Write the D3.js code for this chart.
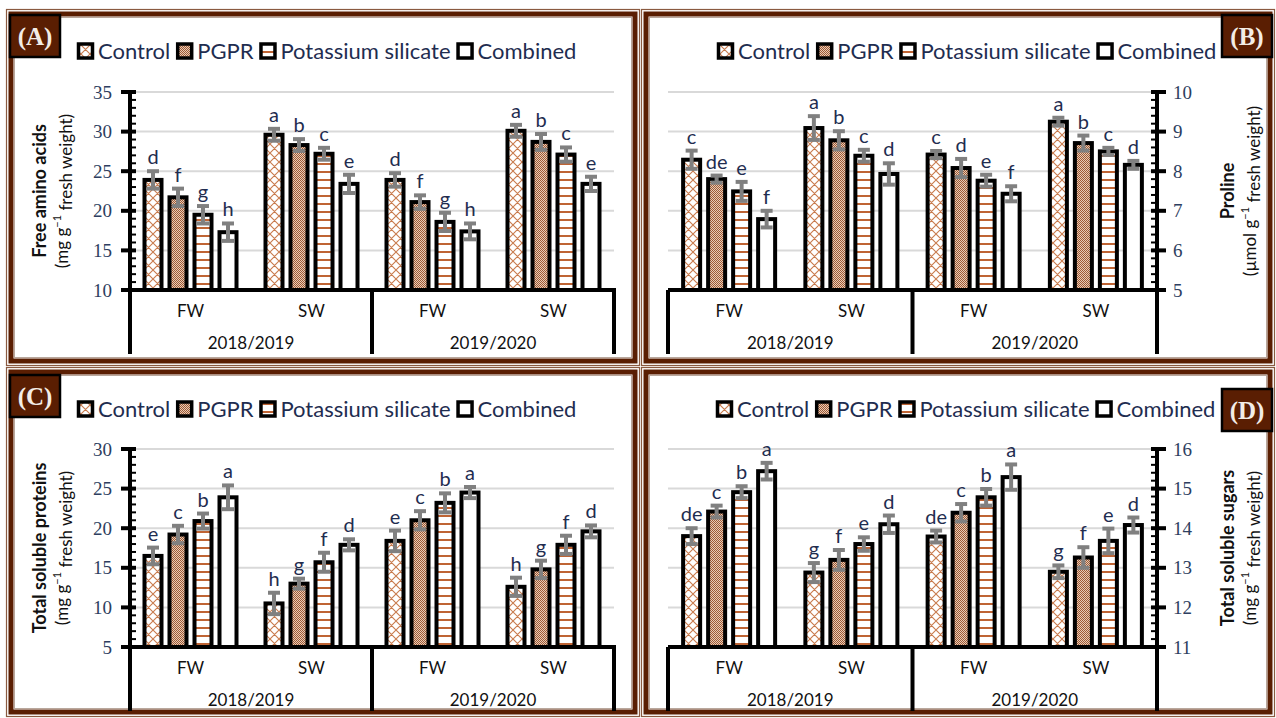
<!DOCTYPE html>
<html><head><meta charset="utf-8">
<script src="https://cdn.jsdelivr.net/npm/d3@7"></script>
<style>body{margin:0;background:#fff}svg{display:block}</style>
</head><body><svg id="c" width="1276" height="718"></svg>
<script>
// ---------- data ----------
const treatments = ["Control","PGPR","Potassium silicate","Combined"];
const seasons = ["FW","SW","FW","SW"];
const years = ["2018/2019","2019/2020"];
const panelLabels = ["(A)","(B)","(C)","(D)"];

const aminoDomain = [10,35];
const aminoTicks = [10,15,20,25,30,35];
const aminoValues = [[23.9,21.7,19.5,17.3],[29.6,28.3,27.2,23.4],[23.9,21.1,18.6,17.4],[30.1,28.7,27.1,23.4]];
const aminoErrors = [[1.1,1.1,1.1,1.1],[0.75,0.75,0.75,1.15],[0.85,0.85,1.15,1.0],[0.75,1.0,0.9,0.9]];
const aminoLetters = [["d","f","g","h"],["a","b","c","e"],["d","f","g","h"],["a","b","c","e"]];

const prolineDomain = [5,10];
const prolineTicks = [5,6,7,8,9,10];
const prolineValues = [[8.29,7.80,7.49,6.79],[9.09,8.78,8.39,7.93],[8.42,8.08,7.76,7.43],[9.25,8.71,8.50,8.16]];
const prolineErrors = [[0.23,0.09,0.24,0.21],[0.30,0.23,0.15,0.27],[0.09,0.23,0.15,0.19],[0.10,0.19,0.09,0.10]];
const prolineLetters = [["c","de","e","f"],["a","b","c","d"],["c","d","e","f"],["a","b","c","d"]];

const proteinDomain = [5,30];
const proteinTicks = [5,10,15,20,25,30];
const proteinValues = [[16.5,19.2,20.9,23.9],[10.5,13.0,15.7,17.9],[18.4,21.0,23.2,24.5],[12.6,14.8,17.9,19.6]];
const proteinErrors = [[1.05,1.1,0.95,1.5],[1.35,0.63,1.2,0.7],[1.3,1.15,1.2,0.7],[1.15,1.1,1.15,0.75]];
const proteinLetters = [["e","c","b","a"],["h","g","f","d"],["e","c","b","a"],["h","g","f","d"]];

const sugarDomain = [11,16];
const sugarTicks = [11,12,13,14,15,16];
const sugarValues = [[13.80,14.42,14.91,15.44],[12.88,13.20,13.60,14.10],[13.79,14.39,14.78,15.29],[12.90,13.26,13.68,14.08]];
const sugarErrors = [[0.20,0.15,0.15,0.21],[0.24,0.25,0.17,0.22],[0.15,0.22,0.21,0.32],[0.16,0.26,0.31,0.19]];
const sugarLetters = [["de","c","b","a"],["g","f","e","d"],["de","c","b","a"],["g","f","e","d"]];

const titles = ["Free amino acids","Proline","Total soluble proteins","Total soluble sugars"];
const unitsPre = ["(mg g","(µmol g","(mg g","(mg g"];

// ---------- drawing ----------
const svg = d3.select("#c");
const BROWN = "#bf6434";
const FRAME = "#5a1e02";
const TXT = "#1f2d50";
const SANS = "Lato, 'Open Sans', sans-serif";
const SERIF = "'Liberation Serif', 'DejaVu Serif', serif";

const defs = svg.append("defs");
const pc = defs.append("pattern").attr("id","pCross").attr("patternUnits","userSpaceOnUse").attr("width",9).attr("height",9);
pc.append("rect").attr("width",9).attr("height",9).attr("fill","#fff");
pc.append("path").attr("d","M0,0L9,9M9,0L0,9M-1,8L1,10M8,-1L10,1").attr("stroke","#c97b4d").attr("stroke-width",1.1);
const pd = defs.append("pattern").attr("id","pDot").attr("patternUnits","userSpaceOnUse").attr("width",2).attr("height",2);
pd.append("rect").attr("width",2).attr("height",2).attr("fill","#e8cbb6");
pd.append("rect").attr("width",1).attr("height",1).attr("fill","#9e5a35");
pd.append("rect").attr("x",1).attr("y",1).attr("width",1).attr("height",1).attr("fill","#9e5a35");
const pl = defs.append("pattern").attr("id","pLine").attr("patternUnits","userSpaceOnUse").attr("width",8).attr("height",8);
pl.append("rect").attr("width",8).attr("height",8).attr("fill","#fff");
pl.append("rect").attr("y",3).attr("width",8).attr("height",2).attr("fill",BROWN);
const fills = ["url(#pCross)","url(#pDot)","url(#pLine)","#fff"];

const panels = [
  {frame:[6,9,634,357], left:130,right:614,top:92,bottom:290, side:"left", dom:aminoDomain, ticks:aminoTicks, minor:1, vals:aminoValues, errs:aminoErrors, lets:aminoLetters, legX:77, legY:51, lab:[10,15], titleX:[40,62]},
  {frame:[641,9,634,357], left:668,right:1157,top:92,bottom:290, side:"right", dom:prolineDomain, ticks:prolineTicks, minor:0.2, vals:prolineValues, errs:prolineErrors, lets:prolineLetters, legX:717, legY:51, lab:[1222,15], titleX:[1228,1250]},
  {frame:[6,367,634,350], left:130,right:614,top:449,bottom:647, side:"left", dom:proteinDomain, ticks:proteinTicks, minor:1, vals:proteinValues, errs:proteinErrors, lets:proteinLetters, legX:77, legY:409, lab:[10,375], titleX:[40,62]},
  {frame:[641,367,634,350], left:668,right:1157,top:449,bottom:647, side:"right", dom:sugarDomain, ticks:sugarTicks, minor:0.2, vals:sugarValues, errs:sugarErrors, lets:sugarLetters, legX:716, legY:409, lab:[1222,389], titleX:[1228,1250]}
];

panels.forEach((p,pi)=>{
  const g = svg.append("g");
  const [fx,fy,fw,fh] = p.frame;
  // frame
  g.append("rect").attr("x",fx+0.5).attr("y",fy+0.5).attr("width",fw-1).attr("height",fh-1).attr("fill","none").attr("stroke","#8a5a40").attr("stroke-width",1.2);
  g.append("rect").attr("x",fx+5).attr("y",fy+5).attr("width",fw-10).attr("height",fh-10).attr("fill","none").attr("stroke",FRAME).attr("stroke-width",5);
  g.append("rect").attr("x",fx+8.5).attr("y",fy+8.5).attr("width",fw-17).attr("height",fh-17).attr("fill","none").attr("stroke","#b9a79c").attr("stroke-width",1);

  const y = d3.scaleLinear().domain(p.dom).range([p.bottom,p.top]);
  const x0 = d3.scaleBand().domain(d3.range(4)).range([p.left,p.right]);
  const x1 = d3.scaleBand().domain(treatments).range([-50,50]).paddingInner(0.32).paddingOuter(0.16);

  // gridlines
  g.selectAll(".grid").data(p.ticks.slice(1)).join("line")
    .attr("x1",p.left).attr("x2",p.right).attr("y1",d=>y(d)).attr("y2",d=>y(d))
    .attr("stroke","#d9d9d9").attr("stroke-width",2);

  // bars
  p.vals.forEach((gv,gi)=>{
    const cx = x0(gi)+x0.bandwidth()/2;
    const bg = g.append("g");
    gv.forEach((v,ti)=>{
      const bx = cx + x1(treatments[ti]);
      bg.append("rect").attr("x",bx).attr("y",y(v)).attr("width",x1.bandwidth()).attr("height",y(p.dom[0])-y(v))
        .attr("fill",fills[ti]).attr("stroke","#000").attr("stroke-width",4);
    });
    gv.forEach((v,ti)=>{
      const mx = cx + x1(treatments[ti]) + x1.bandwidth()/2;
      const e = p.errs[gi][ti];
      bg.append("line").attr("x1",mx).attr("x2",mx).attr("y1",y(v-e)).attr("y2",y(v+e)).attr("stroke","#808080").attr("stroke-width",4);
      [v-e,v+e].forEach(t=>bg.append("line").attr("x1",mx-6).attr("x2",mx+6).attr("y1",y(t)).attr("y2",y(t)).attr("stroke","#808080").attr("stroke-width",4));
      bg.append("text").attr("x",mx).attr("y",y(v+e)-7).attr("text-anchor","middle")
        .attr("font-family",SANS).attr("font-size",20).attr("fill",TXT).text(p.lets[gi][ti]);
    });
  });

  // y axis
  const axX = p.side==="left" ? p.left : p.right;
  const dir = p.side==="left" ? -1 : 1;
  const minorVals = d3.range(p.dom[0], p.dom[1]+1e-9, p.minor).filter(v=>!p.ticks.some(t=>Math.abs(t-v)<1e-6));
  g.selectAll(".minor").data(minorVals).join("line")
    .attr("x1",axX).attr("x2",axX - dir*6).attr("y1",d=>y(d)).attr("y2",d=>y(d))
    .attr("stroke","#000").attr("stroke-width",2);
  g.selectAll(".major").data(p.ticks).join("line")
    .attr("x1",axX + dir*9).attr("x2",axX - dir*6).attr("y1",d=>y(d)).attr("y2",d=>y(d))
    .attr("stroke","#000").attr("stroke-width",4);
  g.append("line").attr("x1",axX).attr("x2",axX).attr("y1",y(p.dom[1])-2).attr("y2",p.bottom+64).attr("stroke","#000").attr("stroke-width",4);
  g.selectAll(".tl").data(p.ticks).join("text")
    .attr("x",axX + dir*(p.side==="left"?18:16)).attr("y",d=>y(d)).attr("dy","0.35em")
    .attr("text-anchor",p.side==="left"?"end":"start")
    .attr("font-family",SERIF).attr("font-size",19).attr("fill","#2d3e60").text(d=>d);

  // category axis
  g.append("line").attr("x1",p.left-(p.side==="left"?9:0)).attr("x2",p.right+(p.side==="right"?9:2)).attr("y1",p.bottom).attr("y2",p.bottom).attr("stroke","#000").attr("stroke-width",4);
  [p.left, x0(2), p.right].forEach(xx=>{
    g.append("line").attr("x1",xx).attr("x2",xx).attr("y1",p.bottom).attr("y2",p.bottom+64).attr("stroke","#000").attr("stroke-width",4);
  });
  seasons.forEach((s,i)=>{
    g.append("text").attr("x",x0(i)+x0.bandwidth()/2).attr("y",p.bottom+27).attr("text-anchor","middle")
      .attr("font-family",SANS).attr("font-size",17).attr("fill","#111").text(s);
  });
  years.forEach((yr,i)=>{
    g.append("text").attr("x",x0(i*2)+x0.bandwidth()).attr("y",p.bottom+59).attr("text-anchor","middle")
      .attr("font-family",SANS).attr("font-size",17).attr("fill","#111").text(yr);
  });

  // legend
  let lx = p.legX;
  treatments.forEach((t,ti)=>{
    g.append("rect").attr("x",lx+1.5).attr("y",p.legY-7).attr("width",14).attr("height",14)
      .attr("fill",fills[ti]).attr("stroke","#000").attr("stroke-width",3.5);
    const tx = g.append("text").attr("x",lx+21).attr("y",p.legY).attr("dy","0.35em")
      .attr("font-family",SANS).attr("font-size",22).attr("fill",TXT).text(t);
    lx += 21 + tx.node().getComputedTextLength() + 6;
  });

  // panel label
  g.append("rect").attr("x",p.lab[0]).attr("y",p.lab[1]).attr("width",50).attr("height",42).attr("fill",FRAME).attr("stroke","#000").attr("stroke-width",2.5);
  g.append("text").attr("x",p.lab[0]+25).attr("y",p.lab[1]+21).attr("dy","0.35em").attr("text-anchor","middle")
    .attr("font-family",SERIF).attr("font-weight","bold").attr("font-size",25).attr("fill","#f3ede6").text(panelLabels[pi]);

  // y titles
  const my = (p.top+p.bottom)/2;
  g.append("text").attr("transform",`translate(${p.titleX[0]},${my}) rotate(-90)`).attr("text-anchor","middle").attr("dy","0.35em")
    .attr("font-family",SANS).attr("font-weight","bold").attr("font-size",18).attr("fill","#111").text(titles[pi]);
  const st = g.append("text").attr("transform",`translate(${p.titleX[1]},${my}) rotate(-90)`).attr("text-anchor","middle").attr("dy","0.35em")
    .attr("font-family",SANS).attr("font-size",17).attr("fill","#111");
  st.append("tspan").text(unitsPre[pi]);
  st.append("tspan").attr("dy","-0.6em").attr("font-size",11).text("−1");
  st.append("tspan").attr("dy","0.6em").text(" fresh weight)");
});
</script></body></html>
